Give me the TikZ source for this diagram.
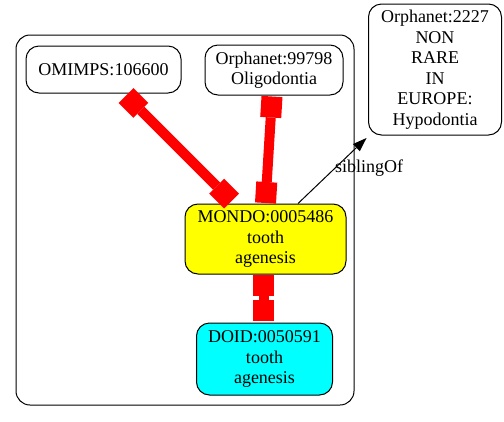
\documentclass[tikz,border=0pt]{standalone}
\usepackage{fontspec}
\setmainfont{Liberation Serif}
\usetikzlibrary{arrows.meta}
\definecolor{nred}{HTML}{FF0000}
\definecolor{nyellow}{HTML}{FFFF00}
\definecolor{ncyan}{HTML}{00FFFF}
\begin{document}
\begin{tikzpicture}[x=1pt,y=-1pt,
  txt/.style={font=\fontsize{18}{20.5}\selectfont},
  termbox/.style={txt,draw=black,line width=1pt,rounded corners=13pt,align=center,inner sep=0pt,fill=white},
  redlink/.style={draw=nred,line width=10pt,
    {Square[length=21pt,width=21pt,line width=0pt]}-{Square[length=21pt,width=21pt,line width=0pt]}},
  blacklink/.style={draw=black,line width=1pt,-{Triangle[length=14pt,width=10pt,line width=0pt]}},
  clusterbox/.style={draw=black,line width=1pt,rounded corners=14pt}
]
\useasboundingbox (0,0) rectangle (504,421);
\draw[clusterbox] (16,35) rectangle (354,405);

\node[termbox,minimum width=155pt,minimum height=47pt] (omim) at (103.5,69.5) {OMIMPS:106600};
\node[termbox,minimum width=138pt,minimum height=50pt] (orpha) at (274,70) {Orphanet:99798\\Oligodontia};
\node[termbox,fill=nyellow,minimum width=161pt,minimum height=70pt] (mondo) at (265.5,239) {MONDO:0005486\\tooth\\agenesis};
\node[termbox,fill=ncyan,minimum width=136pt,minimum height=72pt] (doid) at (264.5,359) {DOID:0050591\\tooth\\agenesis};
\node[termbox,minimum width=133pt,minimum height=131pt] (orphb) at (435,69.5) {Orphanet:2227\\NON\\RARE\\IN\\EUROPE:\\Hypodontia};

\draw[redlink] ([xshift=22.5pt,yshift=-2pt]omim.south) -- ([xshift=-34pt,yshift=2.5pt]mondo.north);
\draw[redlink] ([xshift=-2pt,yshift=-1pt]orpha.south) -- ([yshift=0.5pt]mondo.north);
\draw[redlink] ([xshift=-2pt]mondo.south) -- ([xshift=-1pt,yshift=2pt]doid.north);
\draw[blacklink] ([xshift=32.5pt]mondo.north) -- ([xshift=-1.5pt,yshift=-2.5pt]orphb.south west);
\node[txt,inner sep=0pt] (lbl) at (369,168) {siblingOf};
\end{tikzpicture}
\end{document}
